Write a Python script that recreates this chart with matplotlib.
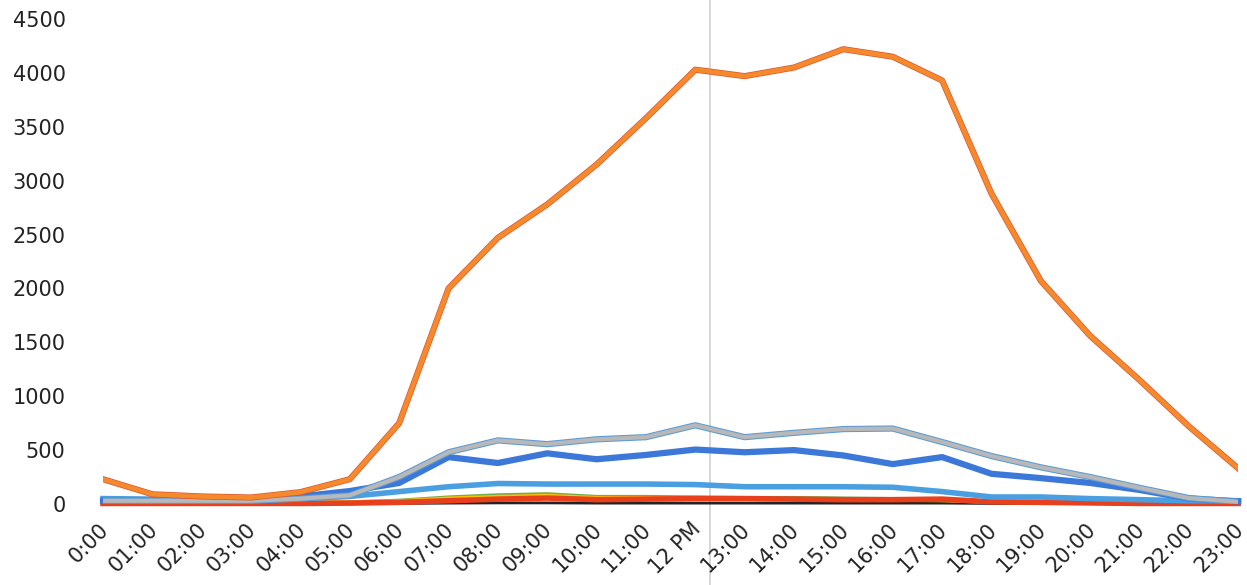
import matplotlib.pyplot as plt
import matplotlib.patheffects as pe
import matplotlib.transforms as mtrans

hours = ['0:00', '01:00', '02:00', '03:00', '04:00', '05:00', '06:00', '07:00',
         '08:00', '09:00', '10:00', '11:00', '12 PM', '13:00', '14:00', '15:00',
         '16:00', '17:00', '18:00', '19:00', '20:00', '21:00', '22:00', '23:00']

orange = [230, 90, 70, 60, 110, 230, 750, 2000, 2470, 2780, 3150, 3580,
          4030, 3970, 4050, 4220, 4150, 3930, 2880, 2070, 1560, 1150, 720, 330]
gray = [30, 30, 30, 30, 50, 80, 250, 480, 590, 555, 600, 620,
        730, 620, 660, 695, 700, 575, 445, 340, 250, 150, 55, 20]
blue = [30, 30, 30, 30, 70, 120, 195, 435, 380, 470, 415, 455,
        505, 480, 500, 450, 370, 435, 280, 240, 195, 130, 50, 25]
light_blue = [50, 45, 45, 45, 50, 70, 115, 160, 190, 185, 185, 185,
              180, 160, 160, 160, 155, 115, 65, 65, 50, 40, 30, 30]
green = [10, 10, 10, 10, 10, 15, 30, 60, 80, 90, 65, 65,
         60, 55, 55, 50, 45, 40, 20, 15, 10, 10, 5, 5]
yellow = [10, 10, 10, 10, 10, 15, 25, 50, 65, 75, 55, 55,
          50, 45, 45, 40, 40, 35, 20, 15, 10, 5, 5, 5]
red = [5, 5, 5, 5, 5, 8, 15, 30, 45, 55, 40, 45,
       50, 50, 45, 40, 40, 45, 20, 15, 10, 5, 5, 5]
black = [2, 2, 2, 2, 2, 3, 5, 8, 10, 10, 8, 8,
         8, 8, 8, 8, 8, 8, 5, 4, 3, 2, 2, 2]

fig = plt.figure(figsize=(12.47, 5.85), dpi=100)
ax = fig.add_axes([0.0826, 0.1385, 0.9104, 0.829])
x = range(len(hours))

# thin hover line running the full height of the picture
ax.axvline(12.3, ymin=-0.2, ymax=1.05, color='#cfcfcf', lw=1.2, zorder=0, clip_on=False)

ax.plot(x, black, color='#222222', lw=2, clip_on=False)
ax.plot(x, green, color='#70ad47', lw=3, clip_on=False)
ax.plot(x, yellow, color='#ffc000', lw=3, clip_on=False)
ax.plot(x, red, color='#e8401c', lw=4, clip_on=False)
ax.plot(x, light_blue, color='#4a9fe0', lw=4, clip_on=False)
ax.plot(x, blue, color='#3c78d8', lw=4.5, clip_on=False)
ax.plot(x, gray, color='#b8b8b8', lw=3,
        path_effects=[pe.Stroke(linewidth=4.5, foreground='#5b9bd5'), pe.Normal()])
ax.plot(x, orange, color='#f58a2c', lw=3.4,
        path_effects=[pe.Stroke(linewidth=4.4, foreground='#e0532e'), pe.Normal()])

ax.set_xlim(0, 23)
ax.set_ylim(0, 4500)
ax.set_yticks(range(0, 4501, 500))
ax.set_xticks(list(x))
ax.set_xticklabels(hours, rotation=45, ha='right', rotation_mode='anchor')
ax.tick_params(axis='both', length=0, labelsize=15, colors='#222222')
ax.tick_params(axis='y', pad=27)
ax.tick_params(axis='x', pad=11)
# nudge the slanted hour labels a little left so the last one fits
shift = mtrans.ScaledTranslation(-5 / 100, 0, fig.dpi_scale_trans)
for lab in ax.get_xticklabels():
    lab.set_transform(lab.get_transform() + shift)
for s in ax.spines.values():
    s.set_visible(False)

fig.savefig('out.png')
